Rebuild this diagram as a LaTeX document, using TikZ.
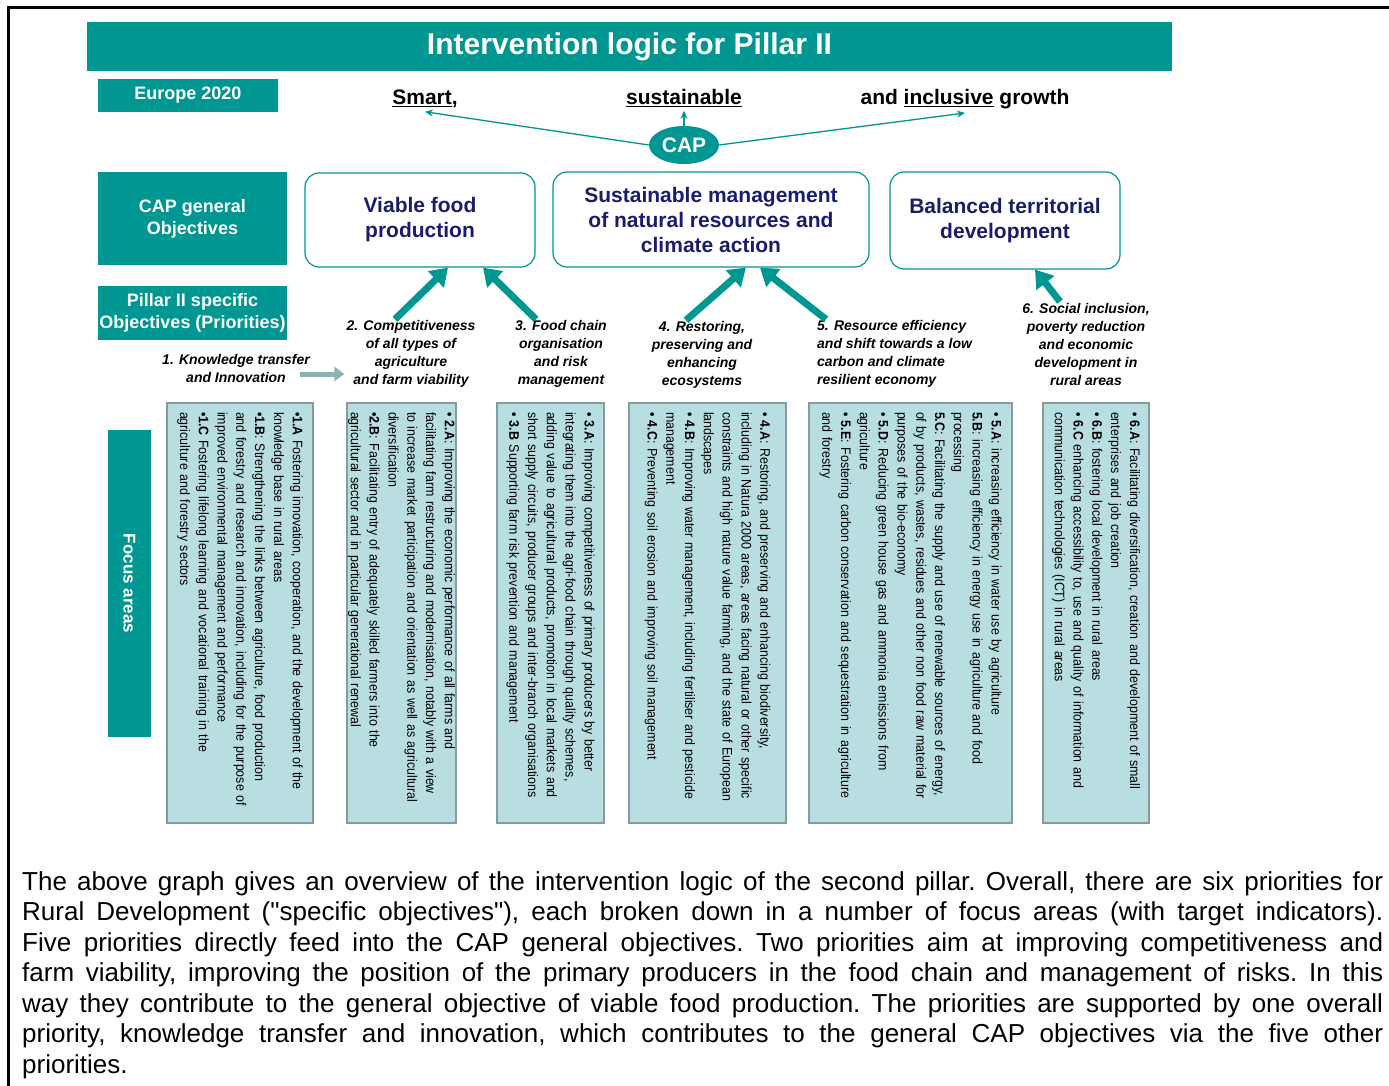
\documentclass[tikz,border=0pt]{standalone}
\usepackage{fontspec}
\setmainfont{Liberation Sans}
\newfontfamily\narrowfont[FakeStretch=0.9]{Liberation Sans}
\usepackage{tikz}
\usetikzlibrary{positioning, calc, arrows.meta, shapes.geometric}
\hyphenpenalty=10000

\definecolor{tealc}{RGB}{0,150,146}
\definecolor{navyc}{RGB}{28,28,110}
\definecolor{focusfill}{RGB}{184,222,226}
\definecolor{focusline}{RGB}{135,155,158}
\definecolor{greyarr}{RGB}{140,178,178}

\tikzset{
  sidebox/.style={fill=tealc, text=white, font=\fontsize{18}{22}\selectfont\bfseries, align=center, inner sep=0pt},
  objbox/.style={draw=tealc, line width=1.2pt, rounded corners=14pt, fill=white, text=navyc, font=\fontsize{21}{25}\selectfont\bfseries, align=center},
  goal/.style={font=\fontsize{21}{25}\selectfont\bfseries, anchor=base},
  prio/.style={font=\fontsize{14}{18}\selectfont\bfseries\itshape, align=center, inner sep=1pt},
  focus/.style={draw=focusline, line width=2.5pt, fill=focusfill, rotate=-90, minimum width=420pt, text width=402pt, align=left, font=\narrowfont\fontsize{13.8}{18.8}\selectfont, inner sep=0pt},
  bigarrow/.style={draw=tealc, line width=7pt, -{Triangle[width=22pt,length=17pt]}},
  greyarrow/.style={draw=greyarr, line width=5pt, -{Triangle[width=14pt,length=10pt]}},
  caparrow/.style={draw=tealc, line width=1.3pt, -{Stealth[width=7pt,length=8pt]}},
}

\begin{document}
\begin{tikzpicture}[x=1pt, y=-1pt]
    \useasboundingbox (0,0) rectangle (1389,1086);

    % 枠
    \draw[line width=3pt] (8,1086) -- (8,8) -- (1389,8);

    % タイトルと左側の見出し
    \node[sidebox, minimum width=1085pt, minimum height=49pt, font=\fontsize{30}{34}\selectfont\bfseries] (title) at (629.5,46.5) {Intervention logic for Pillar II};
    \node[sidebox, minimum width=180pt, minimum height=33pt] (eu) at (188,95.5) {Europe 2020};
    \node[sidebox, minimum width=189pt, minimum height=93pt] (capgen) at (192.5,218.5) {CAP general\\Objectives};
    \node[sidebox, minimum width=189pt, minimum height=54pt] (pillar) at (192.5,313) {Pillar II specific\\Objectives (Priorities)};
    \node[sidebox, rotate=-90, minimum width=307pt, minimum height=43pt, font=\fontsize{17}{20}\selectfont\bfseries] (fa) at (129.5,583.5) {Focus areas};

    % Europe 2020 と CAP
    \node[goal] (smart) at (425,105) {\underline{Smart},};
    \node[goal] (sust) at (684,105) {\underline{sustainable}};
    \node[goal] (growth) at (965,105) {and \underline{inclusive} growth};
    \node[ellipse, fill=tealc, text=white, minimum width=70pt, minimum height=38pt, inner sep=0pt, font=\fontsize{21}{25}\selectfont\bfseries] (cap) at (684,145) {CAP};

    \draw[caparrow] (cap.west) -- (smart.south);
    \draw[caparrow] (cap.north) -- (sust.south);
    \draw[caparrow] (cap.east) -- (growth.south);

    % 一般目標
    \node[objbox, minimum width=230pt, minimum height=94pt] (viable) at (420,220) {Viable food\\production};
    \node[objbox, minimum width=316pt, minimum height=95pt] (sustman) at (711,219.5) {Sustainable management\\of natural resources and\\climate action};
    \node[objbox, minimum width=230pt, minimum height=97pt] (balanced) at (1005,220.5) {Balanced territorial\\development};

    % 優先事項
    \node[prio] (p1) at (236,368) {1. Knowledge transfer\\and Innovation};
    \node[prio] (p2) at (411,354) {2. Competitiveness\\of all types of\\agriculture\\and farm viability};
    \node[prio] (p3) at (561,354) {3. Food chain\\organisation\\and risk\\management};
    \node[prio] (p4) at (702,355) {4. Restoring,\\preserving and\\enhancing\\ecosystems};
    \node[prio, align=left, anchor=west] (p5) at (816,354) {5. Resource efficiency\\and shift towards a low\\carbon and climate\\resilient economy};
    \node[prio] (p6) at (1086,344) {6. Social inclusion,\\poverty reduction\\and economic\\development in\\rural areas};

    % 矢印
    \draw[greyarrow] ($(p1.east)+(-11,6)$) -- ($(p2.west)+(-1,20)$);
    \draw[bigarrow] ($(p2.north)+(-16,0)$) -- ($(viable.south)+(28,0)$);
    \draw[bigarrow] ($(p3.north)+(-25,0)$) -- ($(viable.south)+(63,0)$);
    \draw[bigarrow] ($(p4.north)+(-16,0)$) -- ($(sustman.south)+(35,0)$);
    \draw[bigarrow] ($(p5.north west)+(10,0)$) -- ($(sustman.south)+(49,0)$);
    \draw[bigarrow] ($(p6.north)+(-26,0)$) -- ($(balanced.south)+(30,0)$);

    % 重点分野
    \node[focus, minimum height=146pt] (f1) at (240,613) {\textbf{•1.A} Fostering innovation, cooperation, and the development of the\\
      knowledge base in rural areas\\
      \textbf{•1.B}: Strengthening the links between agriculture, food production\\
      and forestry and research and innovation, including for the purpose of\\
      improved environmental management and performance\\
      \textbf{•1.C} Fostering lifelong learning and vocational training in the\\
      agriculture and forestry sectors};
    \node[focus, minimum height=109pt] (f2) at (401.5,613) {\textbf{• 2.A}: Improving the economic performance of all farms and\\
      facilitating farm restructuring and modernisation, notably with a view\\
      to increase market participation and orientation as well as agricultural\\
      diversification\\
      \textbf{•2.B}: Facilitating entry of adequately skilled farmers into the\\
      agricultural sector and in particular generational renewal};
    \node[focus, minimum height=107pt] (f3) at (550.5,613) {\textbf{• 3.A}: Improving competitiveness of primary producers by better\\
      integrating them into the agri-food chain through quality schemes,\\
      adding value to agricultural products, promotion in local markets and\\
      short supply circuits, producer groups and inter-branch organisations\\
      \textbf{• 3.B} Supporting farm risk prevention and management};
    \node[focus, minimum height=157pt] (f4) at (707.5,613) {\textbf{• 4.A}: Restoring, and preserving and enhancing biodiversity,\\
      including in Natura 2000 areas, areas facing natural or other specific\\
      constraints and high nature value farming, and the state of European\\
      landscapes\\
      \textbf{• 4.B}: Improving water management, including fertiliser and pesticide\\
      management\\
      \textbf{• 4.C}: Preventing soil erosion and improving soil management};
    \node[focus, minimum height=203pt] (f5) at (910.5,613) {\textbf{• 5.A}: increasing efficiency in water use by agriculture\\
      \textbf{5.B}: increasing efficiency in energy use in agriculture and food\\
      processing\\
      \textbf{5.C}: Facilitating the supply and use of renewable sources of energy,\\
      of by products, wastes, residues and other non food raw material for\\
      purposes of the bio-economy\\
      \textbf{• 5.D}: Reducing green house gas and ammonia emissions from\\
      agriculture\\
      \textbf{• 5.E}: Fostering carbon conservation and sequestration in agriculture\\
      and forestry};
    \node[focus, minimum height=106pt] (f6) at (1096,613) {\textbf{• 6.A}: Facilitating diversification, creation and development of small\\
      enterprises and job creation\\
      \textbf{• 6.B}: fostering local development in rural areas\\
      \textbf{• 6.C} enhancing accessibility to, use and quality of information and\\
      communication technologies (ICT) in rural areas};

    % 説明文
    \node[anchor=north west, text width=1361pt, align=justify, inner sep=0pt, font=\fontsize{26}{30.5}\selectfont] (note) at (22,871) {\tolerance=9999\frenchspacing
      The above graph gives an overview of the intervention logic of the second pillar. Overall, there are six priorities for\linebreak
      Rural Development (\textquotedbl specific objectives\textquotedbl), each broken down in a number of focus areas (with target indicators).\linebreak
      Five priorities directly feed into the CAP general objectives. Two priorities aim at improving competitiveness and\linebreak
      farm viability, improving the position of the primary producers in the food chain and management of risks. In this\linebreak
      way they contribute to the general objective of viable food production. The priorities are supported by one overall\linebreak
      priority, knowledge transfer and innovation, which contributes to the general CAP objectives via the five other\linebreak
      priorities.};

\end{tikzpicture}
\end{document}
